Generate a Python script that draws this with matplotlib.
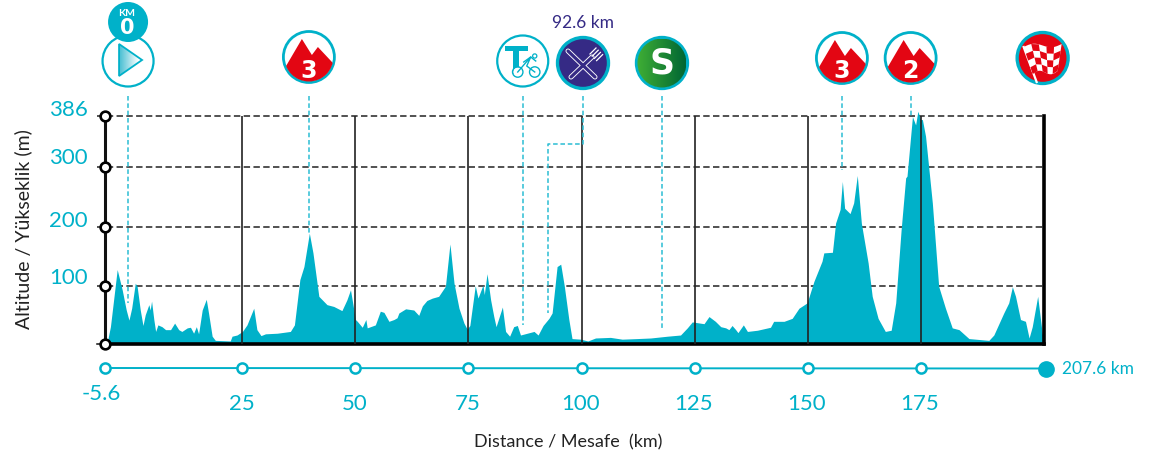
import numpy as np
import matplotlib
matplotlib.use('Agg')
import matplotlib.pyplot as plt
from matplotlib.patches import Circle, Polygon
from matplotlib.colors import LinearSegmentedColormap

plt.rcParams['font.family'] = ['Lato', 'DejaVu Sans']

CYAN = '#00b1c9'
LEADER = '#2bbdd3'
RED = '#e30613'
PURPLE = '#352a85'
W, H = 1150, 456

# profile: km, altitude
km = [-5.4, -4.9, -4.2, -2.7, -1.6, -0.7, -0.1, 0.5, 1.3, 1.7, 2.4, 3.0, 3.5, 4.3, 4.6, 4.9, 5.4, 5.8,
      6.3, 7.2, 8.0, 9.1, 10.0, 10.9, 11.6, 12.8, 13.5, 14.2, 14.8, 15.3, 16.1, 17.0, 17.5, 18.3, 19.0,
      22.3, 22.7, 23.8, 25.0, 26.0, 27.5, 28.2, 29.1, 30.1, 32.7, 35.6, 36.5, 37.7, 38.6, 39.8, 40.6,
      41.9, 43.7, 45.2, 47.0, 48.1, 48.9, 50.0, 50.4, 51.5, 52.3, 52.6, 54.4, 55.5, 56.3, 57.4, 58.5,
      59.2, 59.6, 61.1, 62.9, 64.0, 64.8, 65.8, 67.0, 68.4, 69.9, 70.9, 71.8, 72.9, 74.0, 74.7, 75.3,
      76.5, 77.1, 78.2, 78.5, 79.1, 79.9, 80.6, 81.1, 82.5, 83.2, 84.1, 85.0, 85.8, 86.5, 88.0, 89.5,
      90.4, 91.5, 92.8, 93.5, 94.6, 95.4, 96.2, 97.2, 97.9, 99.8, 101.4, 103.1, 106.4, 109.0, 112.3,
      115.3, 119.0, 121.9, 123.4, 124.5, 127.1, 128.2, 129.6, 130.8, 131.9, 132.6, 133.3, 134.1, 134.6,
      135.8, 136.7, 138.9, 141.8, 142.5, 144.8, 146.6, 148.1, 149.9, 151.4, 153.2, 153.6, 155.5, 156.2,
      157.2, 157.7, 158.2, 159.4, 160.2, 161.0, 161.9, 163.4, 164.3, 165.6, 167.2, 168.5, 169.5, 170.7,
      171.7, 172.0, 173.2, 173.9, 174.4, 175.0, 175.4, 176.1, 177.6, 179.0, 180.5, 182.0, 183.5, 185.7,
      190.1, 191.2, 193.4, 194.5, 195.3, 196.0, 197.1, 198.2, 199.0, 199.7, 200.9, 201.9, 202.3]
alt = [5, 6, 32, 128, 94, 60, 43, 63, 105, 100, 60, 34, 52, 69, 60, 75, 44, 24,
       35, 32, 27, 27, 38, 27, 24, 30, 31, 21, 32, 20, 60, 78, 55, 16, 9,
       8, 16, 18, 24, 35, 63, 27, 17, 20, 21, 24, 35, 111, 133, 189, 156,
       83, 69, 66, 59, 77, 94, 44, 41, 31, 44, 30, 35, 58, 56, 41, 44,
       47, 55, 62, 60, 51, 67, 76, 80, 83, 100, 171, 105, 63, 38, 28, 34,
       101, 80, 102, 86, 121, 77, 49, 32, 65, 24, 16, 32, 34, 18, 21, 24,
       18, 34, 46, 55, 133, 137, 100, 44, 12, 11, 8, 13, 14, 11, 12,
       13, 16, 18, 30, 40, 37, 49, 41, 32, 30, 27, 34, 27, 22,
       35, 24, 26, 31, 41, 41, 46, 63, 72, 108, 142, 156, 157, 206,
       229, 276, 231, 222, 240, 286, 206, 139, 83, 46, 24, 26, 72, 195,
       282, 285, 385, 371, 394, 380, 380, 352, 240, 100, 63, 30, 27, 12,
       9, 18, 55, 72, 99, 83, 44, 41, 13, 32, 83, 21, 6]

km_ticks = [25, 50, 75, 100, 125, 150, 175]
km_tick_labels = ['25', '50', '75', '100', '125', '150', '175']
alt_ticks = [100, 200, 300, 386]
alt_tick_labels = ['100', '200', '300', '386']
alt_label_y = [278, 221, 158, 110]

# points of the course that the icons point to, and where each leader stops (altitude)
start_km, cat3a_km, tech_km, food_km, sprint_km, cat3b_km, cat2_km, finish_km = -0.3, 39.7, 87.0, 92.6, 117.8, 157.6, 172.8, 202.0
leader_end = {start_km: 72, cat3a_km: 189, tech_km: 35, food_km: 55, sprint_km: 27, cat3b_km: 296, cat2_km: 386}

X0, X1 = -5.4, 202.3
Y_BOT = 3.4
LEFT, RIGHT, TOP, BOT = 105, 1044, 117, 344.7


def px(k):
    return LEFT + (k - X0) * (RIGHT - LEFT) / (X1 - X0)


def py(a):
    return BOT - (a - Y_BOT) * (BOT - TOP) / (386 - Y_BOT)


fig = plt.figure(figsize=(W / 100, H / 100), dpi=100, facecolor='white')
ax = fig.add_axes([LEFT / W, 1 - BOT / H, (RIGHT - LEFT) / W, (BOT - TOP) / H])
ax.set_xlim(X0, X1)
ax.set_ylim(Y_BOT, 386)
ax.fill_between(km, alt, Y_BOT, color=CYAN, lw=0, zorder=2, clip_on=False)

for k in km_ticks:
    ax.axvline(k, color='#222222', lw=1.2, zorder=3)
for a in alt_ticks:
    ax.plot([-7.2, X1], [a, a], color='#222222', lw=1.1, ls=(0, (4.2, 2.2)), zorder=1, clip_on=False)
ax.plot([-7.2, X0], [Y_BOT, Y_BOT], color='#111111', lw=1.1, clip_on=False, zorder=1)

ax.spines['top'].set_visible(False)
ax.spines['left'].set_linewidth(2.2)
ax.spines['left'].set_color('#111111')
ax.spines['right'].set_linewidth(2.6)
ax.spines['bottom'].set_linewidth(2.6)
ax.set_xticks([])
ax.set_yticks([])

# round markers on the altitude axis
ax.plot([X0] * 5, [Y_BOT] + alt_ticks, 'o', ms=7, mfc='white', mec='black', mew=1.9, clip_on=False, zorder=6)

# overlay in pixels, for the track, texts and icons
ov = fig.add_axes([0, 0, 1, 1], facecolor='none')
ov.set_xlim(0, W)
ov.set_ylim(H, 0)
ov.axis('off')

for y, lab in zip(alt_label_y, alt_tick_labels):
    ov.text(87.5, y, lab, color=CYAN, fontsize=16, ha='right', va='center')

# distance track
track_y = 369
ov.plot([LEFT, RIGHT + 2], [track_y, track_y + 0.5], color=CYAN, lw=1.4, zorder=2)
ov.plot([LEFT] + [px(k) for k in km_ticks], [track_y] * 8, 'o', ms=7.3, mfc='white', mec=CYAN, mew=1.8, zorder=3)
ov.plot([RIGHT + 2], [track_y + 0.5], 'o', ms=11, color=CYAN, zorder=3)
ov.text(101, 394, '-5.6', color=CYAN, fontsize=16, ha='center', va='center')
for k, lab in zip(km_ticks, km_tick_labels):
    ov.text(px(k) - 1, 404, lab, color=CYAN, fontsize=16, ha='center', va='center')
ov.text(1062, 369, '207.6 km', color=CYAN, fontsize=12.5, ha='left', va='center')
ov.text(583, 23, '92.6 km', color=PURPLE, fontsize=12.5, ha='center', va='center')
ov.text(568, 442, 'Distance / Mesafe  (km)', color='#222222', fontsize=13, ha='center', va='center')
ov.text(23, 229, 'Altitude / Yükseklik (m)', color='#222222', fontsize=14, rotation=90, ha='center', va='center')

# dashed leaders
dash = (0, (3, 1.8))
for k, a in leader_end.items():
    if k == food_km:
        continue
    ov.plot([px(k), px(k)], [97, py(a)], color=LEADER, lw=1.1, ls=dash, zorder=4)
ov.plot([583, 583, px(food_km), px(food_km)], [97, 145, 145, py(leader_end[food_km])], color=LEADER, lw=1.1, ls=dash, zorder=4)


def ring(x, y, fc='white', r=25.5, lw=2.0, z=5):
    c = Circle((x, y), r, fc=fc, ec=CYAN, lw=lw, zorder=z)
    ov.add_patch(c)
    return c


def gradient(x0, x1, y0, y1, c0, c1, clip):
    cmap = LinearSegmentedColormap.from_list('g', [c0, c1])
    im = ov.imshow(np.linspace(0, 1, 64).reshape(1, -1), cmap=cmap, extent=(x0, x1, y1, y0),
                   aspect='auto', zorder=6)
    im.set_clip_path(clip)
    ov.set_xlim(0, W)
    ov.set_ylim(H, 0)


def mountain(x, y, label):
    ring(x, y)
    m = Polygon([(x - 24, y + 11), (x - 7, y - 18), (x + 3, y - 2), (x + 9, y - 10), (x + 24, y + 6),
                 (x + 25, y + 30), (x - 25, y + 30)], fc=RED, ec='none', zorder=6)
    ov.add_patch(m)
    m.set_clip_path(Circle((x, y), 24.5, transform=ov.transData))
    ov.text(x, y + 12.5, label, color='white', fontsize=17, fontweight='bold', ha='center', va='center',
            family=['DejaVu Sans'], zorder=7)


# start + km 0
sx = px(start_km)
ring(sx, 62, lw=1.6)
tri_pts = [(sx - 9, 45), (sx + 14, 61), (sx - 9, 77)]
gradient(sx - 9, sx + 11, 44, 78, '#45bed2', '#ffffff', Polygon(tri_pts, transform=ov.transData))
ov.add_patch(Polygon(tri_pts, fc='none', ec=CYAN, lw=1.3, zorder=7))
ov.add_patch(Circle((sx, 23), 20, fc=CYAN, ec='none', zorder=8))
ov.text(sx - 1, 13, 'KM', color='white', fontsize=7.5, fontweight='bold', ha='center', va='center', zorder=9)
ov.text(sx - 1, 28, '0', color='white', fontsize=15, fontweight='bold', ha='center', va='center',
        family=['DejaVu Sans'], zorder=9)

mountain(px(cat3a_km), 58, '3')
mountain(px(cat3b_km), 59, '3')
mountain(px(cat2_km), 59, '2')

# technical zone
tx = px(tech_km)
ring(tx, 62, lw=1.6)
ov.add_patch(Polygon([(tx - 18, 47), (tx + 5, 47), (tx + 5, 52), (tx - 4, 52), (tx - 4, 75), (tx - 10, 75), (tx - 10, 52),
                      (tx - 18, 52)], fc=CYAN, ec='none', zorder=6))
for cx in (tx - 5, tx + 12):
    ov.add_patch(Circle((cx, 73), 5.2, fc='none', ec=CYAN, lw=1.0, zorder=7))
ov.add_patch(Circle((tx - 5, 73), 4.6, fc='white', ec='none', zorder=6.5))
ov.plot([tx - 5, tx + 1, tx + 8, tx + 4, tx + 12], [73, 66, 58, 67, 73], color=CYAN, lw=1.0, zorder=8)
ov.plot([tx + 1, tx + 8, tx + 13], [63, 58, 62], color=CYAN, lw=1.0, zorder=8)
ov.add_patch(Circle((tx + 12, 57), 2.1, fc='white', ec=CYAN, lw=0.9, zorder=8))

# feed zone, knife and fork as white outlines
fx = 583
ring(fx, 64, fc=PURPLE, lw=2.4)
for xs, ys in (([fx - 15, fx + 12], [52, 78]), ([fx - 12, fx + 9], [78, 58])):
    ov.plot(xs, ys, color='white', lw=3.6, solid_capstyle='round', zorder=6)
    ov.plot(xs, ys, color=PURPLE, lw=2.3, solid_capstyle='round', zorder=7)
for i in range(4):
    ov.plot([fx + 7 + i * 2.2, fx + 13 + i * 2.2], [55 + i * 2.2, 49 + i * 2.2], color='white', lw=0.9, zorder=8)

# sprint
spx = px(sprint_km)
ring(spx, 64, lw=2.4)
gradient(spx - 24.5, spx + 24.5, 39.5, 88.5, '#3fae35', '#006633', Circle((spx, 64), 24.5, transform=ov.transData))
ov.text(spx, 63.5, 'S', color='white', fontsize=25, fontweight='bold', ha='center', va='center',
        family=['DejaVu Sans'], zorder=8)

# finish: flag cells laid out between the four corners of the flag
ffx = px(finish_km)
ring(ffx, 59, fc=RED, lw=2.4)
ov.plot([ffx - 19, ffx - 6], [48, 83], color='white', lw=1.6, zorder=6)


def flag_pt(u, v):
    tl, tr, br, bl = (ffx - 19, 48), (ffx + 19, 45), (ffx + 15, 72), (ffx - 10, 75)
    xt = tl[0] + (tr[0] - tl[0]) * u
    yt = tl[1] + (tr[1] - tl[1]) * u
    xb = bl[0] + (br[0] - bl[0]) * u
    yb = bl[1] + (br[1] - bl[1]) * u
    wave = -2.5 * np.sin(u * 2 * np.pi)
    return xt + (xb - xt) * v, yt + (yb - yt) * v + wave


edge = [flag_pt(u, 0) for u in np.linspace(0, 1, 17)] + [flag_pt(u, 1) for u in np.linspace(1, 0, 17)]
ov.add_patch(Polygon(edge, fc='white', ec='none', zorder=6))
for i in range(5):
    for j in range(4):
        if (i + j) % 2 == 1:
            cell = [flag_pt(i / 5, j / 4), flag_pt((i + 1) / 5, j / 4), flag_pt((i + 1) / 5, (j + 1) / 4), flag_pt(i / 5, (j + 1) / 4)]
            ov.add_patch(Polygon(cell, fc=RED, ec='none', zorder=7))

fig.savefig('out.png', dpi=100)
